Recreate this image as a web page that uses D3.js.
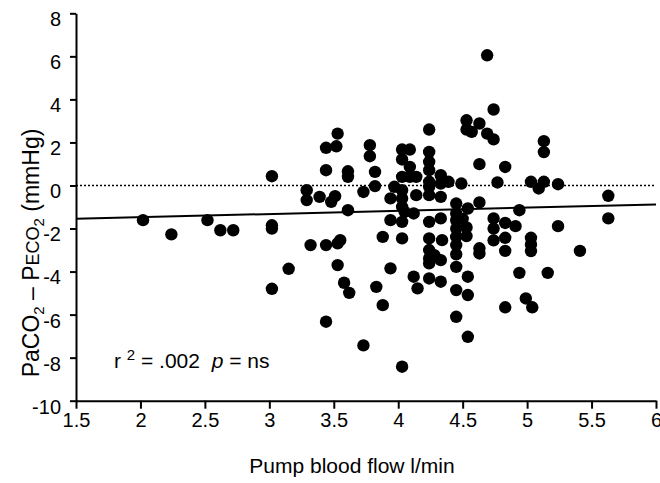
<!DOCTYPE html>
<html><head><meta charset="utf-8">
<script src="https://cdn.jsdelivr.net/npm/d3@7"></script>
<style>body{margin:0;background:#fff}svg{display:block}text{font-family:"Liberation Sans",Arial,sans-serif}</style>
</head><body>
<svg id="c" width="660" height="483"></svg>
<script>
const flow = [2.02,2.24,2.52,2.62,2.72,3.02,3.02,3.02,3.02,3.15,3.29,3.29,3.32,3.39,3.44,3.44,3.44,3.44,3.48,3.51,3.52,3.53,3.53,3.55,3.53,3.58,3.62,3.61,3.61,3.61,3.73,3.73,3.78,3.78,3.82,3.82,3.83,3.88,3.88,3.94,3.94,3.94,3.97,
4.03,4.03,4.03,4.03,4.03,4.03,4.05,4.03,4.03,4.03,4.09,4.09,4.09,4.14,4.14,4.12,4.12,4.15,
4.24,4.24,4.24,4.24,4.24,4.24,4.24,4.24,4.24,4.24,4.24,4.24,4.28,4.24,
4.33,4.33,4.39,4.33,4.33,4.34,4.33,4.33,
4.45,4.45,4.45,4.45,4.45,4.45,4.45,4.45,4.45,4.45,
4.49,4.50,4.53,4.53,4.57,4.63,4.69,4.74,4.69,4.74,4.63,4.54,4.53,4.53,4.54,4.54,4.54,4.63,4.63,4.63,
4.77,4.83,4.74,4.74,4.74,4.83,4.91,4.83,4.83,4.83,4.94,4.94,4.99,5.04,5.03,5.09,5.13,5.13,5.13,5.03,5.03,5.03,5.16,5.24,5.24,5.41,5.63,5.63];
const diff = [-1.61,-2.27,-1.61,-2.08,-2.08,0.43,-1.85,-2.0,-4.8,-3.87,-0.22,-0.68,-2.77,-0.53,1.75,0.71,-2.77,-6.33,-0.76,-0.50,1.82,2.41,-2.69,-2.54,-3.70,-4.52,-4.99,0.66,0.40,-1.15,-0.30,-7.43,1.87,1.36,0.63,-0.03,-4.71,-2.39,-5.56,-0.60,-1.61,-3.85,-0.06,
1.67,1.21,0.40,-0.22,-0.60,-0.99,-1.23,-1.69,-2.46,-8.42,1.67,0.86,0.40,0.40,-0.45,-1.30,-4.24,-4.78,
2.60,1.56,1.10,0.71,0.17,-0.06,-0.45,-1.69,-2.46,-3.0,-3.39,-3.62,-3.24,-4.32,
0.48,0.09,0.17,-0.53,-1.53,-2.54,-3.47,-4.47,
-0.84,-1.30,-1.61,-2.0,-2.39,-2.77,-3.2,-3.78,-4.86,-6.10,
0.09,-1.55,3.03,2.60,2.49,2.88,2.41,2.14,6.05,3.53,0.99,-1.07,-1.95,-2.35,-4.24,-5.09,-7.03,-0.79,-2.92,-3.16,
0.14,0.86,-1.53,-2.0,-2.55,-1.74,-1.89,-2.43,-3.04,-5.66,-1.15,-4.06,-5.25,-5.66,0.17,-0.14,0.17,2.06,1.55,-2.43,-2.74,-3.05,-4.06,0.06,-1.89,-3.04,-0.48,-1.53];
const xTicks = [1.5,2,2.5,3,3.5,4,4.5,5,5.5,6];
const yTicks = [-10,-8,-6,-4,-2,0,2,4,6,8];
const fitX = [1.5,6];
const fitY = [-1.55,-0.88];

const svg = d3.select("#c");
const x = d3.scaleLinear().domain([1.5,6]).range([76,656]);
const y = d3.scaleLinear().domain([-10,8]).range([400.7,13.3]);

// zero reference line
svg.append("line").attr("x1",x(1.5)).attr("x2",x(6)).attr("y1",y(0)).attr("y2",y(0))
  .attr("stroke","#000").attr("stroke-width",1.5).attr("stroke-dasharray","2,2");

// points
svg.append("g").selectAll("circle").data(flow.map((f,i)=>[f,diff[i]])).join("circle")
  .attr("cx",d=>x(d[0])).attr("cy",d=>y(d[1])).attr("r",6.2).attr("fill","#000");

// regression line
svg.append("line").attr("x1",x(fitX[0])).attr("x2",x(fitX[1])).attr("y1",y(fitY[0])).attr("y2",y(fitY[1]))
  .attr("stroke","#000").attr("stroke-width",2);

// axes
const gx = svg.append("g").attr("transform",`translate(0,${y(-10)})`)
  .call(d3.axisBottom(x).tickValues(xTicks).tickFormat(d=>String(d)).tickSize(8).tickPadding(4).tickSizeOuter(0));
const gy = svg.append("g").attr("transform",`translate(${x(1.5)},0)`)
  .call(d3.axisLeft(y).tickValues(yTicks).tickFormat(d=>String(d)).tickSize(6).tickPadding(9).tickSizeOuter(0));
[gx,gy].forEach(g=>{
  g.select(".domain").attr("stroke-width",2);
  g.selectAll(".tick line").attr("stroke-width",2);
  g.selectAll("text").attr("font-size",20).attr("font-family","Liberation Sans, Arial, sans-serif").attr("fill","#000");
});
gy.selectAll("text").attr("dy","0.62em");

// x title
svg.append("text").attr("x",352).attr("y",473).attr("text-anchor","middle").attr("font-size",21).text("Pump blood flow l/min");

// y title
const yt = svg.append("text").attr("transform","translate(39,253) rotate(-90)").attr("text-anchor","middle").attr("font-size",23);
yt.append("tspan").text("PaCO");
yt.append("tspan").attr("font-size",15).attr("dy",5).text("2");
yt.append("tspan").attr("dy",-5).text(" \u2013 P");
yt.append("tspan").attr("font-size",18).text("ECO");
yt.append("tspan").attr("font-size",15).attr("dy",5).text("2");
yt.append("tspan").attr("dy",-5).text(" (mmHg)");

// annotation
const an = svg.append("text").attr("x",114).attr("y",368).attr("font-size",21).style("white-space","pre");
an.append("tspan").text("r ");
an.append("tspan").attr("font-size",15).attr("dy",-8).text("2");
an.append("tspan").attr("dy",8).text(" = .002  ");
an.append("tspan").attr("font-style","italic").text("p");
an.append("tspan").text(" = ns");
</script>
</body></html>
